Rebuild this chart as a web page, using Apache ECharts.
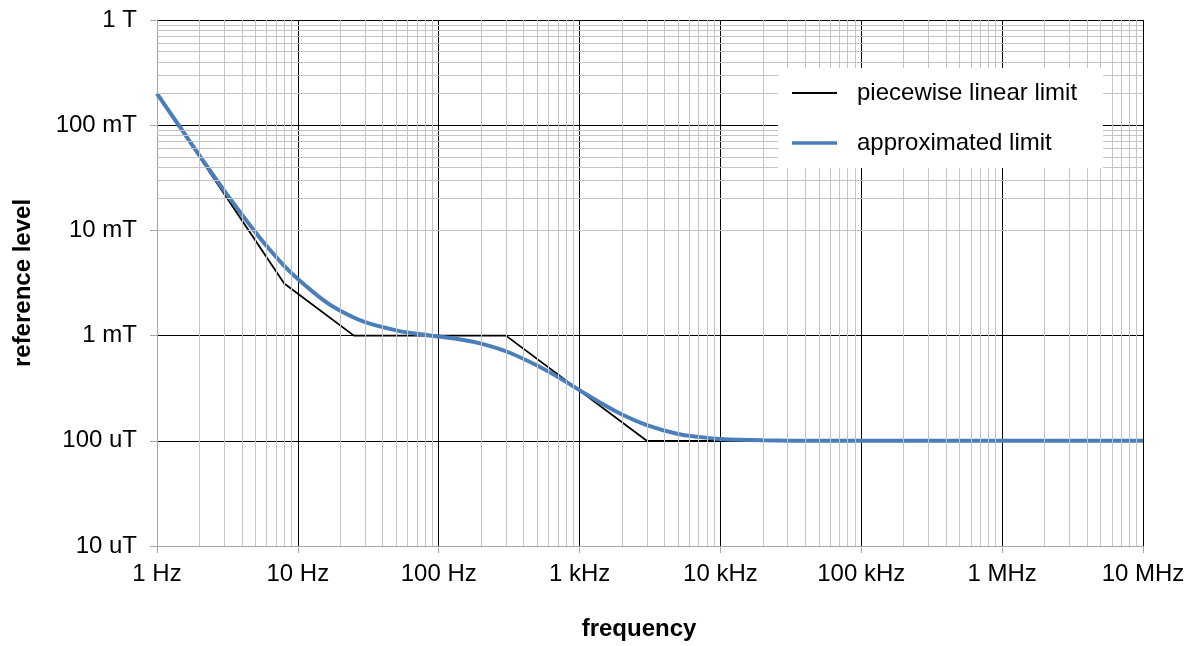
<!DOCTYPE html>
<html>
<head>
<meta charset="utf-8">
<script src="https://cdn.jsdelivr.net/npm/echarts@6/dist/echarts.min.js"></script>
<style>
html,body{margin:0;padding:0;background:#fff;}
#chart{width:1196px;height:646px;}
</style>
</head>
<body>
<div id="chart"></div>
<script>
// ---- data ----
const xTickLabels = ['1 Hz', '10 Hz', '100 Hz', '1 kHz', '10 kHz', '100 kHz', '1 MHz', '10 MHz'];
const yTickLabels = ['10 uT', '100 uT', '1 mT', '10 mT', '100 mT', '1 T'];

// piecewise linear limit (frequency in Hz, level in T)
const piecewiseFreq  = [1, 8, 25, 300, 3000, 10000000];
const piecewiseLevel = [0.2, 0.003125, 0.001, 0.001, 0.0001, 0.0001];

// approximated limit, values (Hz, T)
const approxFreq  = [1, 1.5, 2, 3, 4, 5, 6, 8, 10, 15, 20, 30, 50, 70, 100, 150, 200, 300, 500, 700, 1000, 1500, 2000, 3000, 5000, 7000, 10000, 20000, 50000, 100000, 10000000];
const approxLevel = [0.2, 0.0906, 0.0517, 0.0239, 0.0142, 0.0096, 0.0071, 0.0046, 0.00345, 0.0022, 0.00172, 0.00134, 0.00112, 0.00104, 0.00098, 0.00091, 0.00084, 0.00071, 0.00052, 0.000405, 0.000303, 0.000219, 0.000178, 0.000141, 0.000116, 0.000109, 0.000104, 0.000101, 0.0001, 0.0001, 0.0001];

const seriesNames = ['piecewise linear limit', 'approximated limit'];
const seriesColors = ['#000000', '#4a7ebb'];

// ---- build ----
const zip = (a, b) => a.map((v, i) => [v, b[i]]);

const minorX = [];
for (let d = 0; d < 7; d++) for (let k = 2; k <= 9; k++) minorX.push({ xAxis: k * Math.pow(10, d) });
const minorY = [];
for (let d = -5; d < 0; d++) for (let k = 2; k <= 9; k++) minorY.push({ yAxis: k * Math.pow(10, d) });

const FONT = '"Liberation Sans", Arial, sans-serif';
const chart = echarts.init(document.getElementById('chart'), null, { renderer: 'canvas' });

chart.setOption({
  animation: false,
  backgroundColor: '#ffffff',
  textStyle: { fontFamily: FONT },
  grid: { left: 157, right: 53, top: 20, bottom: 100, containLabel: false },
  legend: {
    left: 778, top: 68,
    orient: 'vertical',
    zlevel: 2, z: 10,
    selectedMode: false,
    backgroundColor: '#ffffff',
    padding: [13, 26, 13, 14],
    itemGap: 26,
    itemWidth: 45, itemHeight: 14,
    textStyle: { fontFamily: FONT, fontSize: 24, color: '#000', lineHeight: 24, padding: [0, 0, 0, 15] },
    data: [
      { name: seriesNames[0], icon: 'path://M0,0H100V4H0Z', itemStyle: { color: seriesColors[0] } },
      { name: seriesNames[1], icon: 'path://M0,0H100V8H0Z', itemStyle: { color: seriesColors[1] } }
    ]
  },
  xAxis: {
    type: 'log', logBase: 10, min: 1, max: 10000000,
    name: 'frequency', nameLocation: 'middle', nameGap: 71,
    nameTextStyle: { fontFamily: FONT, fontSize: 24, fontWeight: 'bold', color: '#000', padding: [0, 22, 0, 0] },
    axisLine: { show: true, onZero: false, lineStyle: { color: '#a6a6a6', width: 1 } },
    axisTick: { show: true, length: 7, lineStyle: { color: '#a6a6a6' } },
    axisLabel: { fontFamily: FONT, fontSize: 24, color: '#000', margin: 16,
      formatter: v => xTickLabels[Math.round(Math.log10(v))] },
    splitLine: { show: true, lineStyle: { color: '#000', width: 1 } },
    minorTick: { show: false }, minorSplitLine: { show: false }
  },
  yAxis: {
    type: 'log', logBase: 10, min: 0.00001, max: 1,
    name: 'reference level', nameLocation: 'middle', nameGap: 122, nameRotate: 90,
    nameTextStyle: { fontFamily: FONT, fontSize: 24, fontWeight: 'bold', color: '#000' },
    axisLine: { show: true, onZero: false, lineStyle: { color: '#a6a6a6', width: 1 } },
    axisTick: { show: true, length: 7, lineStyle: { color: '#a6a6a6' } },
    axisLabel: { fontFamily: FONT, fontSize: 24, color: '#000', margin: 20,
      formatter: v => yTickLabels[Math.round(Math.log10(v)) + 5] },
    splitLine: { show: true, lineStyle: { color: '#000', width: 1 } },
    minorTick: { show: false }, minorSplitLine: { show: false }
  },
  series: [
    {
      name: 'minor grid', type: 'line', data: [], z: 1, silent: true,
      markLine: {
        silent: true, animation: false, symbol: ['none', 'none'],
        label: { show: false },
        lineStyle: { color: '#c4c4c4', width: 1, type: 'solid' },
        emphasis: { disabled: true },
        data: minorX.concat(minorY)
      }
    },
    {
      name: seriesNames[0], type: 'line', z: 3,
      data: zip(piecewiseFreq, piecewiseLevel),
      showSymbol: false, symbol: 'none',
      lineStyle: { color: seriesColors[0], width: 1.8 },
      itemStyle: { color: seriesColors[0] }
    },
    {
      name: seriesNames[1], type: 'line', z: 4,
      data: zip(approxFreq, approxLevel),
      showSymbol: false, symbol: 'none', smooth: 0.3,
      lineStyle: { color: seriesColors[1], width: 4 },
      itemStyle: { color: seriesColors[1] }
    }
  ]
});
</script>
</body>
</html>
